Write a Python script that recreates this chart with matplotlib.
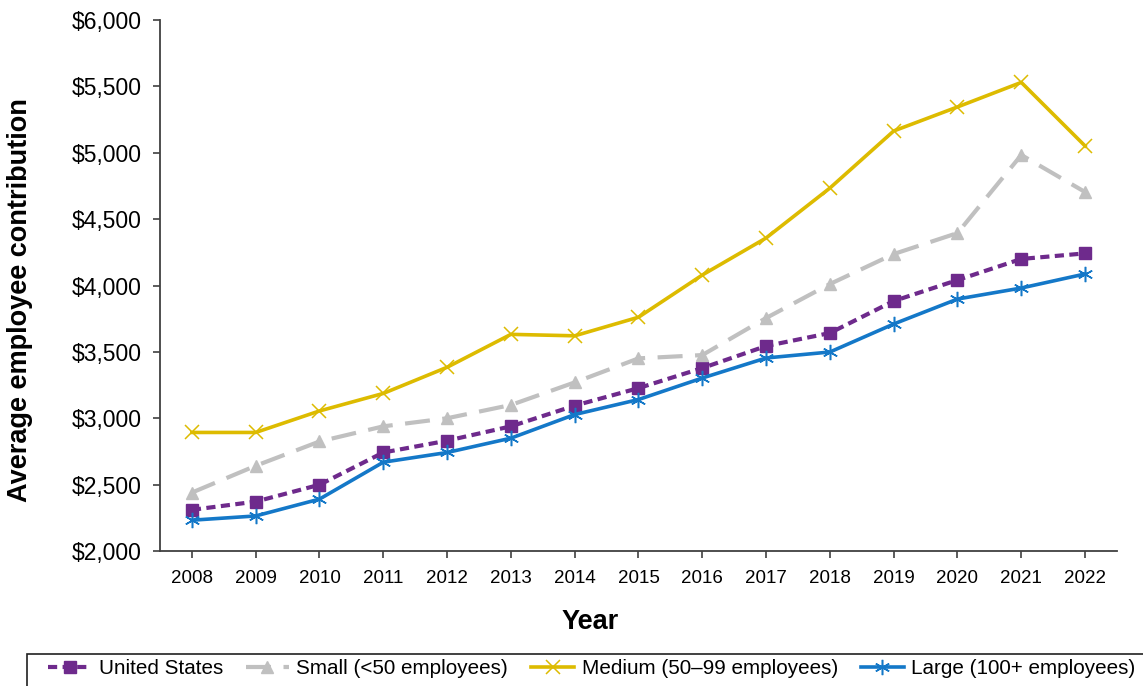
import numpy as np
import matplotlib.pyplot as plt
from matplotlib.patches import Rectangle
from matplotlib.ticker import FuncFormatter

plt.rcParams["font.family"] = ["Liberation Sans", "DejaVu Sans"]

# --- Data: average annual employee contribution ($) ---
years = list(range(2008, 2023))
united_states = [2310, 2372, 2499, 2742, 2831, 2939, 3095, 3227, 3378, 3544, 3642, 3883, 4041, 4200, 4242]
small = [2440, 2642, 2825, 2939, 3000, 3100, 3270, 3451, 3476, 3755, 4011, 4237, 4395, 4983, 4704]
medium = [2893, 2893, 3055, 3187, 3384, 3632, 3621, 3761, 4079, 4358, 4734, 5164, 5345, 5530, 5051]
large = [2232, 2264, 2391, 2669, 2742, 2850, 3028, 3141, 3303, 3454, 3499, 3710, 3898, 3981, 4087]

labels = ["United States", "Small (<50 employees)", "Medium (50\u201399 employees)", "Large (100+ employees)"]

W, H = 1143, 686

# --- Plot ---
fig = plt.figure(figsize=(W / 100, H / 100), dpi=100)
ax = fig.add_axes([160 / W, 1 - 551 / H, (1117 - 160) / W, (551 - 20) / H])

ax.plot(years, united_states, color="#6E2A8C", lw=3, ls=(0, (2.2, 1.3)),
        marker="s", ms=9, label=labels[0])
ax.plot(years, small, color="#C0C0C0", lw=3, ls=(0, (6, 3)),
        marker="^", ms=9, label=labels[1])
ax.plot(years, medium, color="#DDBB00", lw=2.6, marker="x", ms=10, mew=1.1,
        label=labels[2])
ax.plot(years, large, color="#1478C8", lw=2.6, marker=(6, 2, 0), ms=11, mew=1.1,
        label=labels[3])

ax.set_xlim(2007.5, 2022.5)
ax.set_ylim(2000, 6000)
ax.set_xticks(years)
ax.set_yticks(np.arange(2000, 6001, 500))
ax.yaxis.set_major_formatter(FuncFormatter(lambda v, p: f"${v:,.0f}"))
ax.tick_params(axis="both", length=5, width=1.2, color="#404040")
ax.tick_params(axis="x", labelsize=13.5, pad=9)
ax.tick_params(axis="y", labelsize=16.5, pad=8)

for side in ["top", "right"]:
    ax.spines[side].set_visible(False)
for side in ["left", "bottom"]:
    ax.spines[side].set_color("#404040")
    ax.spines[side].set_linewidth(1.3)

# axis titles
fig.text(590 / W, 1 - 622 / H, "Year", fontsize=19.5, fontweight="bold",
         ha="center", va="center")
fig.text(20 / W, 1 - 300 / H, "Average employee contribution", fontsize=19.5,
         fontweight="bold", rotation=90, ha="center", va="center")

# legend row along the bottom, boxed
leg = fig.legend(loc="center left", bbox_to_anchor=(48 / W, 1 - 669 / H),
                 ncol=4, fontsize=14.9, frameon=False, borderpad=0,
                 borderaxespad=0, handlelength=2.1, handletextpad=0.35,
                 columnspacing=1.1)
fig.add_artist(Rectangle((27 / W, -0.1), 1.2, 0.1 + 1 - 654 / H,
                         transform=fig.transFigure, fill=False,
                         edgecolor="#202020", lw=1.2))

fig.savefig("out.png", dpi=100)
